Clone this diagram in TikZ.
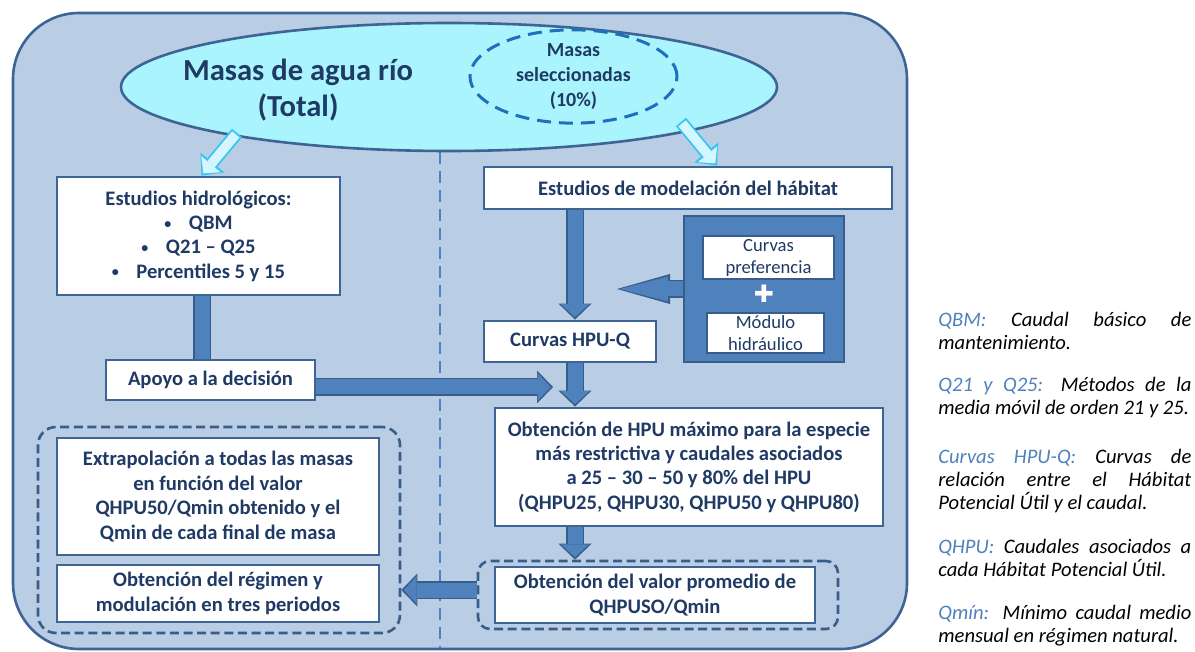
\documentclass[tikz,border=0pt]{standalone}
\usepackage{fontspec}
\setmainfont{Carlito}
\newfontfamily\symbolfont{DejaVu Sans}
\usepackage{xcolor}
\usepackage{tikz}
\usetikzlibrary{positioning, arrows.meta, shapes.geometric}

\definecolor{frameblue}{HTML}{3E6495}
\definecolor{panelblue}{HTML}{B9CDE5}
\definecolor{lakecyan}{HTML}{AAF4FE}
\definecolor{navytext}{HTML}{1F3A64}
\definecolor{arrowfill}{HTML}{4F81BD}
\definecolor{arrowline}{HTML}{385D8A}
\definecolor{selecblue}{HTML}{1F6FBF}
\definecolor{hollowline}{HTML}{33C6F4}
\definecolor{hollowfill}{HTML}{D6F6FF}
\definecolor{keyblue}{HTML}{4F81BD}

\newcommand{\hidrobullet}{\raisebox{0.7pt}{\fontsize{7}{7}\selectfont\textbullet}\hspace{0.85em}}

\begin{document}
\begin{tikzpicture}[x=0.5pt, y=-0.5pt,
    whitebox/.style={rectangle, draw=frameblue, line width=1.4pt, fill=white, text=navytext, font=\bfseries\fontsize{10.3}{12.2}\selectfont, align=center, inner sep=0pt},
    smallbox/.style={rectangle, draw=arrowline, line width=1.3pt, fill=white, text=navytext, font=\fontsize{9.3}{11}\selectfont, align=center, inner sep=0pt},
    modbox/.style={rectangle, draw=arrowline, fill=arrowfill, line width=1.3pt},
    groupbox/.style={rectangle, draw=arrowline, line width=1.3pt, dash pattern=on 4.5pt off 2.3pt},
    flowarrow/.style={arrowfill, line width=7.5pt, shorten >=1.2pt, -{Triangle[length=6.5pt, width=14pt, line width=0pt]},
        preaction={draw=arrowline, line width=9pt, shorten >=0pt, -{Triangle[length=8pt, width=16.5pt, line width=0pt]}}},
    flowbar/.style={arrowfill, line width=7.5pt, preaction={draw=arrowline, line width=9pt}},
    longhead/.style={arrowfill, line width=7.5pt, shorten >=1.5pt, -{Triangle[length=24pt, width=12.5pt, line width=0pt]},
        preaction={draw=arrowline, line width=9pt, shorten >=0pt, -{Triangle[length=26.5pt, width=15pt, line width=0pt]}}},
    hollowarrow/.style={hollowfill, line width=4.8pt, shorten >=1.4pt, shorten <=0.9pt, -{Triangle[length=6pt, width=12.5pt, line width=0pt]},
        preaction={draw=hollowline, line width=6.6pt, shorten >=0pt, shorten <=0pt, -{Triangle[length=8.5pt, width=15.5pt, line width=0pt]}}},
    divider/.style={arrowfill, line width=1pt, dash pattern=on 6pt off 3.5pt},
    keytext/.style={anchor=north west, text width=126.5pt, align=justify, inner sep=0pt, font=\itshape\fontsize{10.3}{11.5}\selectfont},
]
\useasboundingbox (0,0) rectangle (1195,652);

% background panel
\draw[frameblue, fill=panelblue, line width=1.3pt, rounded corners=33pt] (13,13) rectangle (907,649);
\draw[divider] (440,152) -- (440,648);

\node[ellipse, draw=frameblue, fill=lakecyan, line width=1.3pt, minimum width=328pt, minimum height=64pt, inner sep=0pt] (total) at (449,87) {};
\node[text=navytext, font=\bfseries\fontsize{15.3}{18}\selectfont, align=center] (title) at (298,90) {Masas de agua río\\(Total)};
\node[ellipse, draw=selecblue, line width=1.5pt, dash pattern=on 7pt off 4pt, minimum width=103.5pt, minimum height=41.5pt, inner sep=0pt,
    text=navytext, font=\bfseries\fontsize{10}{12.5}\selectfont, align=center] (selec) at (573.5,76.5) {Masas\\seleccionadas\\(10\%)};

% left column
\node[whitebox, minimum width=141.5pt, minimum height=59pt] (hidro) at (198.5,236)
    {Estudios hidrológicos:\\\hidrobullet QBM\\\hidrobullet Q21 – Q25\\\hidrobullet Percentiles 5 y 15};
\node[whitebox, minimum width=104.5pt, minimum height=20pt] (apoyo) at (210.5,380) {Apoyo a la decisión};
\node[groupbox, rounded corners=9pt, minimum width=181pt, minimum height=103pt] (leftgroup) at (219,530) {};
\node[whitebox, minimum width=161pt, minimum height=58.5pt] (extrapol) at (218,496.5)
    {Extrapolación a todas las masas\\en función del valor\\QHPU50/Qmin obtenido y el\\Qmin de cada final de masa};
\node[whitebox, minimum width=161pt, minimum height=28.5pt] (regimen) at (218,593.5) {Obtención del régimen y\\modulación en tres periodos};

% right column
\node[whitebox, minimum width=204pt, minimum height=21pt] (modela) at (688,188) {Estudios de modelación del hábitat};
\node[whitebox, minimum width=86pt, minimum height=20.5pt] (curvashpu) at (570,341.5) {Curvas HPU-Q};
\node[modbox, minimum width=80pt, minimum height=73pt] (modulos) at (764,289) {};
\node[smallbox, minimum width=65.5pt, minimum height=21.5pt] (pref) at (768.5,257.5) {Curvas\\preferencia};
\node[text=white, font=\symbolfont\fontsize{12}{12}\selectfont, inner sep=0pt] (plus) at (764,294) {✚};
\node[smallbox, minimum width=58.5pt, minimum height=20pt] (modulo) at (765.5,333) {Módulo\\hidráulico};
\node[whitebox, minimum width=194pt, minimum height=59pt] (hpumax) at (689,467)
    {Obtención de HPU máximo para la especie\\más restrictiva y caudales asociados\\a 25 – 30 – 50 y 80\% del HPU\\(QHPU25, QHPU30, QHPU50 y QHPU80)};
\node[groupbox, rounded corners=6pt, minimum width=180pt, minimum height=34pt] (rightgroup) at (658,595) {};
\node[whitebox, minimum width=160pt, minimum height=28pt] (promedio) at (655,595) {Obtención del valor promedio de\\QHPUSO/Qmin};

% arrows
\coordinate (barx) at (202,0);
\coordinate (arrx) at (575,0);
\coordinate (hpuin) at (553,387);
\coordinate (prefin) at (617,289);
\coordinate (tailL) at (237,133);
\coordinate (tailR) at (681,122);
\draw[hollowarrow] (tailL) -- ([xshift=1.5pt]hidro.north);
\draw[hollowarrow] (tailR) -- ([xshift=14.5pt]modela.north);
\draw[flowbar] (hidro.south -| barx) -- (apoyo.north -| barx);
\draw[flowarrow] (apoyo.east |- hpuin) -- (hpuin);
\draw[flowarrow] (modela.south -| arrx) -- (curvashpu.north -| arrx);
\draw[longhead] (modulos.west) -- (prefin);
\draw[flowarrow] (curvashpu.south -| arrx) -- (hpumax.north -| arrx);
\draw[flowarrow] (hpumax.south -| arrx) -- (rightgroup.north -| arrx);
\draw[flowarrow] ([yshift=2.5pt]rightgroup.west) -- ([yshift=2.5pt]rightgroup.west -| leftgroup.east);

% key
\node[keytext] (key) at (938,312) {%
    \textcolor{keyblue}{QBM:} Caudal básico de\linebreak mantenimiento.\par\vspace{9.5pt}
    \textcolor{keyblue}{Q21 y Q25:} Métodos de la\linebreak media móvil de orden 21 y 25.\par\vspace{13pt}
    \textcolor{keyblue}{Curvas HPU-Q:} Curvas de\linebreak relación entre el Hábitat\linebreak Potencial Útil y el caudal.\par\vspace{10.5pt}
    \textcolor{keyblue}{QHPU:} Caudales asociados a\linebreak cada Hábitat Potencial Útil.\par\vspace{10pt}
    \textcolor{keyblue}{Qmín:} Mínimo caudal medio\linebreak mensual en régimen natural.};
\end{tikzpicture}
\end{document}
